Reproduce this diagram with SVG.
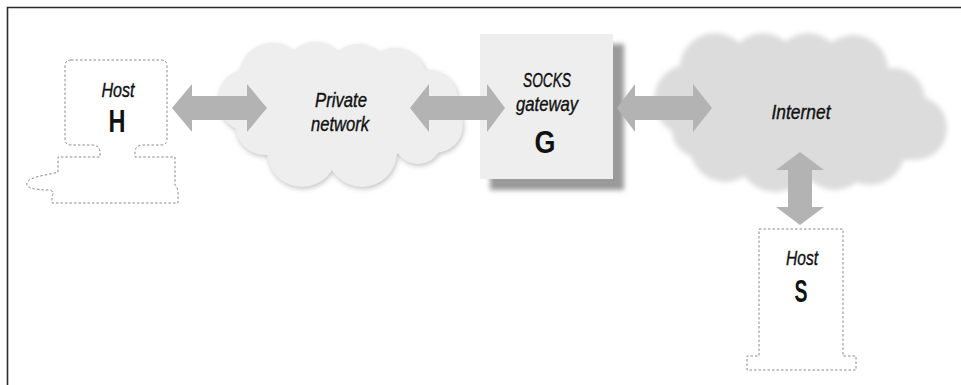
<svg xmlns="http://www.w3.org/2000/svg" width="961" height="385" viewBox="0 0 961 385">
<defs>
<filter id="cloudShadow" x="-10%" y="-10%" width="120%" height="130%">
<feGaussianBlur in="SourceAlpha" stdDeviation="2.5"/>
<feOffset dx="1" dy="2" result="b"/>
<feFlood flood-color="#c4c4c4"/>
<feComposite in2="b" operator="in" result="s"/>
<feMerge><feMergeNode in="s"/><feMergeNode in="SourceGraphic"/></feMerge>
</filter>
<filter id="soft" x="-10%" y="-10%" width="120%" height="120%">
<feGaussianBlur stdDeviation="2.5"/>
</filter>
<filter id="boxShadow" x="-20%" y="-20%" width="140%" height="140%">
<feGaussianBlur stdDeviation="2.5"/>
</filter>
</defs>
<style>
.frame{stroke:#2a2a2a;stroke-width:1.6;fill:none}
.dash{fill:none;stroke:#8a8a8a;stroke-width:1;stroke-dasharray:2.5 2}
.arrow{fill:#b3b3b3}
.lbl{font-family:"Liberation Sans",Arial,sans-serif;font-style:italic;font-size:21px;fill:#111;stroke:#111;stroke-width:0.4;text-anchor:middle}
.big{font-family:"Liberation Sans",Arial,sans-serif;font-weight:bold;font-size:31px;fill:#111;text-anchor:middle}
</style>
<path class="frame" d="M7.5,385 V7.5 H961"/>

<g id="private-network">
<g filter="url(#cloudShadow)" fill="#eeeeee">
<circle cx="250" cy="100" r="32"/>
<circle cx="272" cy="75" r="32"/>
<circle cx="315" cy="72" r="30"/>
<circle cx="358" cy="74" r="30"/>
<circle cx="395" cy="80" r="32"/>
<circle cx="428" cy="100" r="30"/>
<circle cx="435" cy="125" r="28"/>
<circle cx="418" cy="140" r="24"/>
<circle cx="362" cy="152" r="35"/>
<circle cx="302" cy="152" r="35"/>
<circle cx="265" cy="125" r="30"/>
<ellipse cx="345" cy="112" rx="95" ry="50"/>
</g>
<text class="lbl" x="341" y="107" textLength="52" lengthAdjust="spacingAndGlyphs">Private</text>
<text class="lbl" x="340" y="131" textLength="58" lengthAdjust="spacingAndGlyphs">network</text>
</g>

<g id="internet">
<g filter="url(#soft)" fill="#dcdcdc">
<circle cx="690" cy="100" r="36"/>
<circle cx="715" cy="68" r="35"/>
<circle cx="763" cy="66" r="33"/>
<circle cx="808" cy="66" r="33"/>
<circle cx="853" cy="70" r="35"/>
<circle cx="893" cy="100" r="32"/>
<circle cx="915" cy="128" r="32"/>
<circle cx="905" cy="140" r="20"/>
<circle cx="870" cy="150" r="35"/>
<circle cx="835" cy="155" r="35"/>
<circle cx="775" cy="155" r="37"/>
<circle cx="725" cy="147" r="35"/>
<circle cx="700" cy="130" r="28"/>
<ellipse cx="800" cy="112" rx="120" ry="60"/>
</g>
<text class="lbl" x="801" y="119" textLength="59" lengthAdjust="spacingAndGlyphs">Internet</text>
</g>

<g id="gateway">
<rect x="490" y="44" width="134" height="146" fill="#9a9a9a" filter="url(#boxShadow)"/>
<rect x="480" y="34" width="133" height="145" fill="#eeeeee"/>
<text class="lbl" x="547" y="87" textLength="48" lengthAdjust="spacingAndGlyphs">SOCKS</text>
<text class="lbl" x="547" y="111" textLength="62" lengthAdjust="spacingAndGlyphs">gateway</text>
<text class="big" x="545" y="153" textLength="21" lengthAdjust="spacingAndGlyphs">G</text>
</g>

<g id="host-h">
<path class="dash" d="M71,60 H161 Q167,60 167,66 V139 Q167,145 161,145 H142 Q135,146 135,152 V157 H175 V185 Q178,188 178,193 V203 H52 V196 Q55,192 50,190 C35,190 25,188 27,183 C29,176 50,175 58,172 V157 H100 V152 Q100,146 93,145 H71 Q65,145 65,139 V66 Q65,60 71,60 Z"/>
<text class="lbl" x="118" y="97" textLength="33" lengthAdjust="spacingAndGlyphs">Host</text>
<text class="big" x="117" y="132" textLength="17" lengthAdjust="spacingAndGlyphs">H</text>
</g>

<g id="host-s">
<path class="dash" d="M759,229 H843 V356 H856 V370 H747 V356 H759 Z"/>
<text class="lbl" x="802" y="265" textLength="32" lengthAdjust="spacingAndGlyphs">Host</text>
<text class="big" x="801" y="302" textLength="13" lengthAdjust="spacingAndGlyphs">S</text>
</g>

<g id="connectors">
<polygon class="arrow" points="172,108 192,84 192,96 247,96 247,84 267,108 247,132 247,120 192,120 192,132"/>
<polygon class="arrow" points="410,108 429,84 429,96 487,96 487,84 505,108 487,132 487,120 429,120 429,132"/>
<polygon class="arrow" points="617,108 635,84 635,96 693,96 693,84 712,108 693,132 693,120 635,120 635,132"/>
<polygon class="arrow" points="800,152 824,170 812,170 812,207 824,207 800,225 776,207 788,207 788,170 776,170"/>
</g>
</svg>
